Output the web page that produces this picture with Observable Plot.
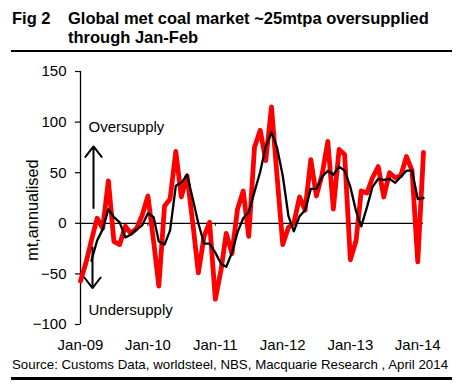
<!DOCTYPE html>
<html><head><meta charset="utf-8">
<script src="https://cdn.jsdelivr.net/npm/d3@7"></script>
<script src="https://cdn.jsdelivr.net/npm/@observablehq/plot@0.6"></script>
<style>
body{margin:0;background:#fff;font-family:"Liberation Sans",Arial,sans-serif;color:#000;}
#wrap{position:relative;width:461px;height:386px;overflow:hidden;background:#fff;}
.t{position:absolute;font-weight:bold;font-size:16.5px;line-height:19px;white-space:nowrap;}
.rule{position:absolute;left:11px;width:441px;height:2.5px;background:#000;}
#cap{position:absolute;left:12px;top:357px;font-size:13.3px;line-height:15px;white-space:nowrap;}
#chart{position:absolute;left:0;top:55px;}
</style></head>
<body>
<div id="wrap">
  <div class="t" style="left:12px;top:9px;">Fig 2</div>
  <div class="t" style="left:68px;top:9px;">Global met coal market ~25mtpa oversupplied<br>through Jan-Feb</div>
  <div class="rule" style="top:49.5px;"></div>
  <div id="chart"></div>
  <div id="cap">Source: Customs Data, worldsteel, NBS, Macquarie Research , April 2014</div>
  <div class="rule" style="top:377px;"></div>
</div>
<script>
// Monthly series, Jan-09 .. Feb-14
const startMonth = "2009-01-01";
const monthCount = 62;
// Red: monthly market balance (mt annualised)
const balance = [
  -57, -38, -17, 5, -5, 42, -18, -21, -3, -10, -5, 8,
  27, -18, -62, 17, 24, 71, 26, 47, 0, -49, -13, 1,
  -75, -46, -10, -30, 14, 32, -13, 75, 92, 62, 115, 47,
  -21, -4, 0, 26, 13, 63, 27, 48, 81, 14, 73, 68,
  -36, -17, 32, 30, 45, 56, 26, 50, 45, 47, 66, 52,
  -38, 70
];
// Black: 3-month average
const balanceAvg = [
  null, null, -37, -17, -6, 14, 6, 1, -14, -11, -6, -2,
  10, 6, -18, -21, -7, 37, 40, 48, 24, 0, -20, -20,
  -29, -40, -43, -29, -9, 5, 11, 31, 51, 76, 90, 75,
  47, 7, -8, 7, 13, 34, 34, 46, 52, 48, 56, 52,
  36, 12, -3, 16, 36, 44, 43, 44, 40, 46, 52, 52,
  24, 25
];
const yTicks = [-100, -50, 0, 50, 100, 150];
const xTickLabels = ["Jan-09", "Jan-10", "Jan-11", "Jan-12", "Jan-13", "Jan-14"];

const start = new Date(startMonth + "T00:00:00Z");
const months = d3.range(monthCount).map(i => d3.utcMonth.offset(start, i));
const xTicks = xTickLabels.map((_, i) => d3.utcYear.offset(start, i));
const redData = months.map((d, i) => ({date: d, v: balance[i]}));
const blackData = months.map((d, i) => ({date: d, v: balanceAvg[i]}));

const chart = Plot.plot({
  width: 461, height: 300,
  marginTop: 16, marginBottom: 31, marginLeft: 80, marginRight: 38,
  style: {fontFamily: "'Liberation Sans', Arial, sans-serif", fontSize: "15px", color: "#000", background: "transparent"},
  x: {type: "utc", domain: [months[0], months[months.length - 1]]},
  y: {domain: [-100, 150]},
  marks: [
    Plot.axisY({ticks: yTicks, tickSize: 5, tickPadding: 9, label: null, fontSize: 15, strokeWidth: 1.2}),
    Plot.axisX({ticks: xTicks, tickFormat: d => xTickLabels[xTicks.findIndex(t => +t === +d)], tickSize: 0, tickPadding: 15, label: null, fontSize: 15}),
    Plot.ruleX([months[0]], {y1: -100, y2: 150, stroke: "#000", strokeWidth: 1.3}),
    Plot.ruleY([0], {stroke: "#000", strokeWidth: 1.2}),
    Plot.ruleX(xTicks.slice(1), {y1: 0, y2: -3, stroke: "#000", strokeWidth: 1}),
    Plot.line(redData, {x: "date", y: "v", stroke: "#ff0000", strokeWidth: 4.8, strokeLinejoin: "round"}),
    Plot.line(blackData, {x: "date", y: "v", stroke: "#000", strokeWidth: 2.3, strokeLinejoin: "round"}),
    Plot.arrow([{x: months[0], y1: 15, y2: 76}], {x1: "x", x2: "x", y1: "y1", y2: "y2", dx: 13, stroke: "#000", strokeWidth: 2, headLength: 10, headAngle: 75}),
    Plot.arrow([{x: months[0], y1: -24, y2: -64}], {x1: "x", x2: "x", y1: "y1", y2: "y2", dx: 12, stroke: "#000", strokeWidth: 2, headLength: 10, headAngle: 75}),
    Plot.text([{x: months[0], y: 95, t: "Oversupply"}], {x: "x", y: "y", text: "t", textAnchor: "start", dx: 8, fontSize: 15}),
    Plot.text([{x: months[0], y: -85.5, t: "Undersupply"}], {x: "x", y: "y", text: "t", textAnchor: "start", dx: 8, fontSize: 15}),
    Plot.text([{x: months[0], y: 13, t: "mt,annualised"}], {x: "x", y: "y", text: "t", rotate: -90, dx: -48, fontSize: 16.3})
  ]
});
document.getElementById("chart").appendChild(chart);
</script>
</body></html>
